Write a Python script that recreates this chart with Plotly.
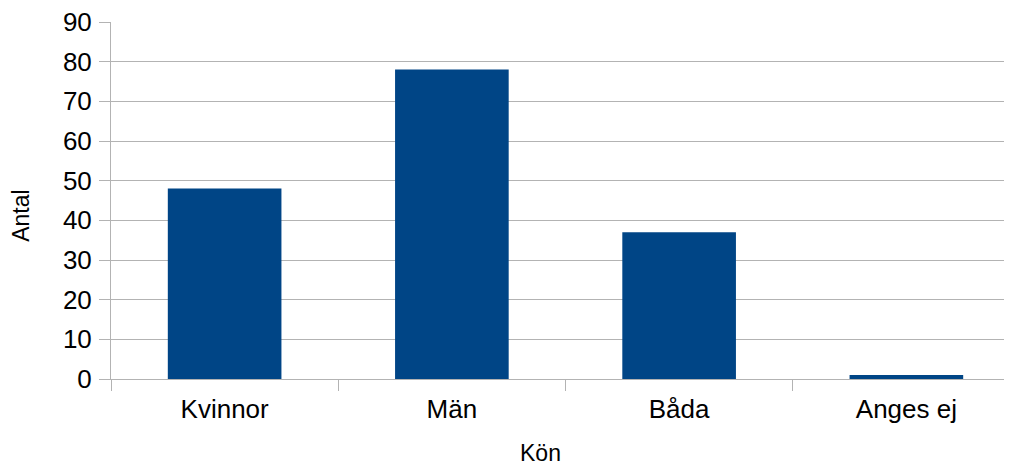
import plotly.graph_objects as go

categories = ["Kvinnor", "Män", "Båda", "Anges ej"]
values = [48, 78, 37, 1]
x_title = "Kön"
y_title = "Antal"

fig = go.Figure(go.Bar(x=categories, y=values, marker_color="#004586", width=0.5,
                       marker_line_width=0))

gray = "#b3b3b3"
fig.update_layout(
    width=1012, height=466,
    margin=dict(l=103, r=0, t=14, b=95),
    paper_bgcolor="white", plot_bgcolor="white",
    font=dict(family="Liberation Sans", color="black"),
    showlegend=False,
)
fig.update_xaxes(
    range=[-0.5, 3.5],
    automargin=False,
    showline=True, linecolor=gray, linewidth=1,
    ticks="outside", tickson="boundaries", ticklen=11, tickcolor=gray,
    tickfont=dict(size=26), ticklabelstandoff=7,
    showgrid=False,
)
fig.update_yaxes(
    range=[0, 90], dtick=10,
    automargin=False,
    showline=True, linecolor=gray, linewidth=1,
    showgrid=True, gridcolor=gray, gridwidth=1,
    ticks="outside", ticklen=11, tickcolor=gray,
    tickfont=dict(size=26), ticklabelstandoff=2,
    ticklabeloverflow="allow",
    zeroline=False,
)
fig.add_annotation(text=x_title, xref="paper", yref="paper", x=0.472, y=-0.207,
                   xanchor="center", yanchor="middle", showarrow=False,
                   font=dict(size=23))
fig.add_annotation(text=y_title, xref="paper", yref="paper", x=-0.099, y=0.457,
                   xanchor="center", yanchor="middle", showarrow=False,
                   textangle=-90, font=dict(size=23))
fig.write_html("out.html")
